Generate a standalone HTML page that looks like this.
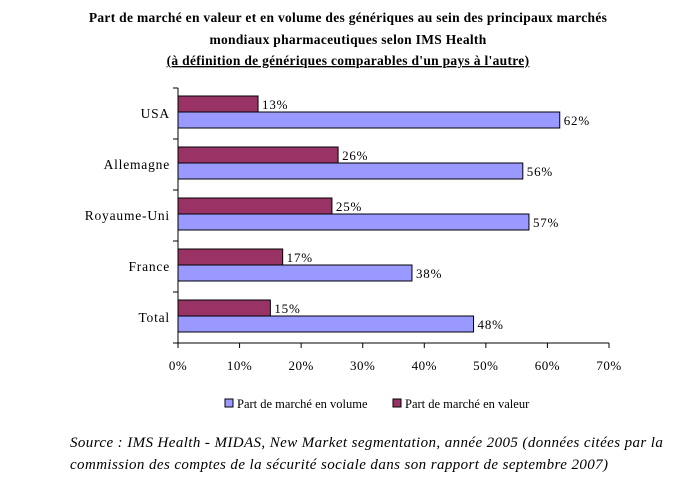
<!DOCTYPE html>
<html><head><meta charset="utf-8"><style>
body{margin:0;background:#fff;width:696px;height:486px;overflow:hidden;font-family:"Liberation Serif",serif;}
svg text{font-family:"Liberation Serif",serif;}
</style></head><body>
<svg id="chart" width="696" height="486" viewBox="0 0 696 486" xmlns="http://www.w3.org/2000/svg">
<g font-weight="bold" font-size="13.5" text-anchor="middle" letter-spacing="0.3">
<text x="348" y="22">Part de marché en valeur et en volume des génériques au sein des principaux marchés</text>
<text x="348" y="44">mondiaux pharmaceutiques selon IMS Health</text>
<text x="348" y="65" text-decoration="underline">(à définition de génériques comparables d'un pays à l'autre)</text>
</g>
<g id="plot"></g>
<g font-size="12.5">
<rect x="225" y="399" width="8" height="8" fill="#9999FF" stroke="#000"/>
<text x="237" y="408">Part de marché en  volume</text>
<rect x="393" y="399" width="8" height="8" fill="#993366" stroke="#000"/>
<text x="405" y="408">Part de marché en valeur</text>
</g>
<g font-style="italic" font-size="15" letter-spacing="0.4">
<text x="70" y="447">Source : IMS Health - MIDAS, New Market segmentation, année 2005 (données citées par la</text>
<text x="70" y="469">commission des comptes de la sécurité sociale dans son rapport de septembre 2007)</text>
</g>
</svg>
<script>
const categories=["USA","Allemagne","Royaume-Uni","France","Total"];
const valeur=[13,26,25,17,15];
const volume=[62,56,57,38,48];
const ticks=[0,10,20,30,40,50,60,70];
const NS="http://www.w3.org/2000/svg";
const x0=178,x1=609,y0=88,band=51;
const xs=v=>x0+(v/70)*(x1-x0);
const g=document.getElementById('plot');
function mk(t,a){const e=document.createElementNS(NS,t);for(const k in a)e.setAttribute(k,a[k]);g.appendChild(e);return e;}
categories.forEach((c,i)=>{
  const top=y0+i*band;
  let r=mk('rect',{x:x0,y:top+8,width:xs(valeur[i])-x0,height:16,fill:'#993366',stroke:'#000'});
  
  
  r=mk('rect',{x:x0,y:top+24,width:xs(volume[i])-x0,height:16,fill:'#9999FF',stroke:'#000'});
  
  
  let t=mk('text',{x:xs(valeur[i])+4,y:top+21,'font-size':13,'letter-spacing':0.8});t.textContent=valeur[i]+'%';
  
  
  t=mk('text',{x:xs(volume[i])+4,y:top+37,'font-size':13,'letter-spacing':0.8});t.textContent=volume[i]+'%';
  
  
  t=mk('text',{x:x0-8,y:top+30,'font-size':13.5,'text-anchor':'end','letter-spacing':0.8});t.textContent=c;
  
  
});
for(let i=0;i<=categories.length;i++){
  const l=mk('line',{x1:x0-5,x2:x0,y1:y0+i*band,y2:y0+i*band,stroke:'#000'});
  
  
}
const yb=y0+categories.length*band;
let ax=mk('line',{x1:x0,x2:x0,y1:y0,y2:yb,stroke:'#000'});


ax=mk('line',{x1:x0,x2:x1,y1:yb,y2:yb,stroke:'#000'});


ticks.forEach(v=>{
  const l=mk('line',{x1:xs(v),x2:xs(v),y1:yb,y2:yb+5,stroke:'#000'});
  
  
  const t=mk('text',{x:xs(v),y:yb+27,'font-size':13,'text-anchor':'middle','letter-spacing':0.5});t.textContent=v+'%';
  
  
});
</script>
</body></html>
